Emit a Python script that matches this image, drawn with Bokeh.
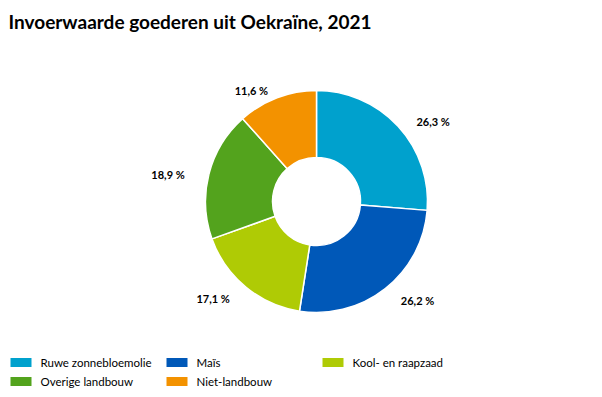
import math
from bokeh.plotting import figure
from bokeh.models import Range1d, ColumnDataSource
from bokeh.core.properties import value
from bokeh.embed import file_html
from bokeh.resources import INLINE

title = "Invoerwaarde goederen uit Oekraïne, 2021"
categories = ["Ruwe zonnebloemolie", "Maïs", "Kool- en raapzaad", "Overige landbouw", "Niet-landbouw"]
shares = [26.3, 26.2, 17.1, 18.9, 11.6]
colors = ["#00A1CD", "#0058B8", "#AFCB05", "#53A31D", "#F39200"]

W, H = 594, 389
FONT = "Lato"

p = figure(width=W, height=H, output_backend="svg", toolbar_location=None,
           x_range=Range1d(0, W), y_range=Range1d(0, H), min_border=0)
p.axis.visible = False
p.grid.visible = False
p.outline_line_color = None
p.background_fill_color = "white"
p.border_fill_color = "white"

def Y(page_y):
    return H - page_y

def X(page_x):
    return page_x

# donut
cx, cy = X(316), Y(201)
R_out, R_in = 111, 44
total = sum(shares)
starts, ends, mids = [], [], []
cum = 0.0
for s in shares:
    a0 = math.pi / 2 - 2 * math.pi * cum / total
    cum += s
    a1 = math.pi / 2 - 2 * math.pi * cum / total
    starts.append(a0); ends.append(a1); mids.append((a0 + a1) / 2)

src = ColumnDataSource(dict(start=starts, end=ends, color=colors))
p.annular_wedge(x=cx, y=cy, inner_radius=R_in, outer_radius=R_out,
                start_angle="start", end_angle="end", direction="clock",
                fill_color="color", line_color="white", line_width=1.5, source=src)

# labels
lx, ly, lt, la = [], [], [], []
for s, m in zip(shares, mids):
    x = cx + 136 * math.cos(m)
    y = cy + 122 * math.sin(m) - 3
    lx.append(x); ly.append(y)
    lt.append(f"{s:.1f}".replace(".", ",") + " %")
    la.append("left" if math.cos(m) >= 0 else "right")
p.text(x=lx, y=ly, text=lt, text_align=la, text_baseline="middle",
       text_font=value(FONT), text_font_size="11px", text_font_style="bold",
       text_color="#000000")

# title
p.text(x=[X(8)], y=[Y(21)], text=[title], text_align="left", text_baseline="alphabetic",
       text_font=value(FONT), text_font_size="19px", text_font_style="bold", text_color="#000000")

# legend
col_x = [10, 166, 322]
row_y = [362, 381]
sx, sy, tx, ty = [], [], [], []
for i, c in enumerate(categories):
    cxp = col_x[i % 3]
    ryp = row_y[i // 3]
    sx.append(X(cxp + 10.5)); sy.append(Y(ryp))
    tx.append(X(cxp + 30)); ty.append(Y(ryp))
p.rect(x=sx, y=sy, width=21, height=9, fill_color=colors, line_color=None)
p.text(x=tx, y=ty, text=categories, text_align="left", text_baseline="middle",
       text_font=value(FONT), text_font_size="11.5px", text_color="#000000")

open("out.html", "w").write(file_html(p, INLINE))
